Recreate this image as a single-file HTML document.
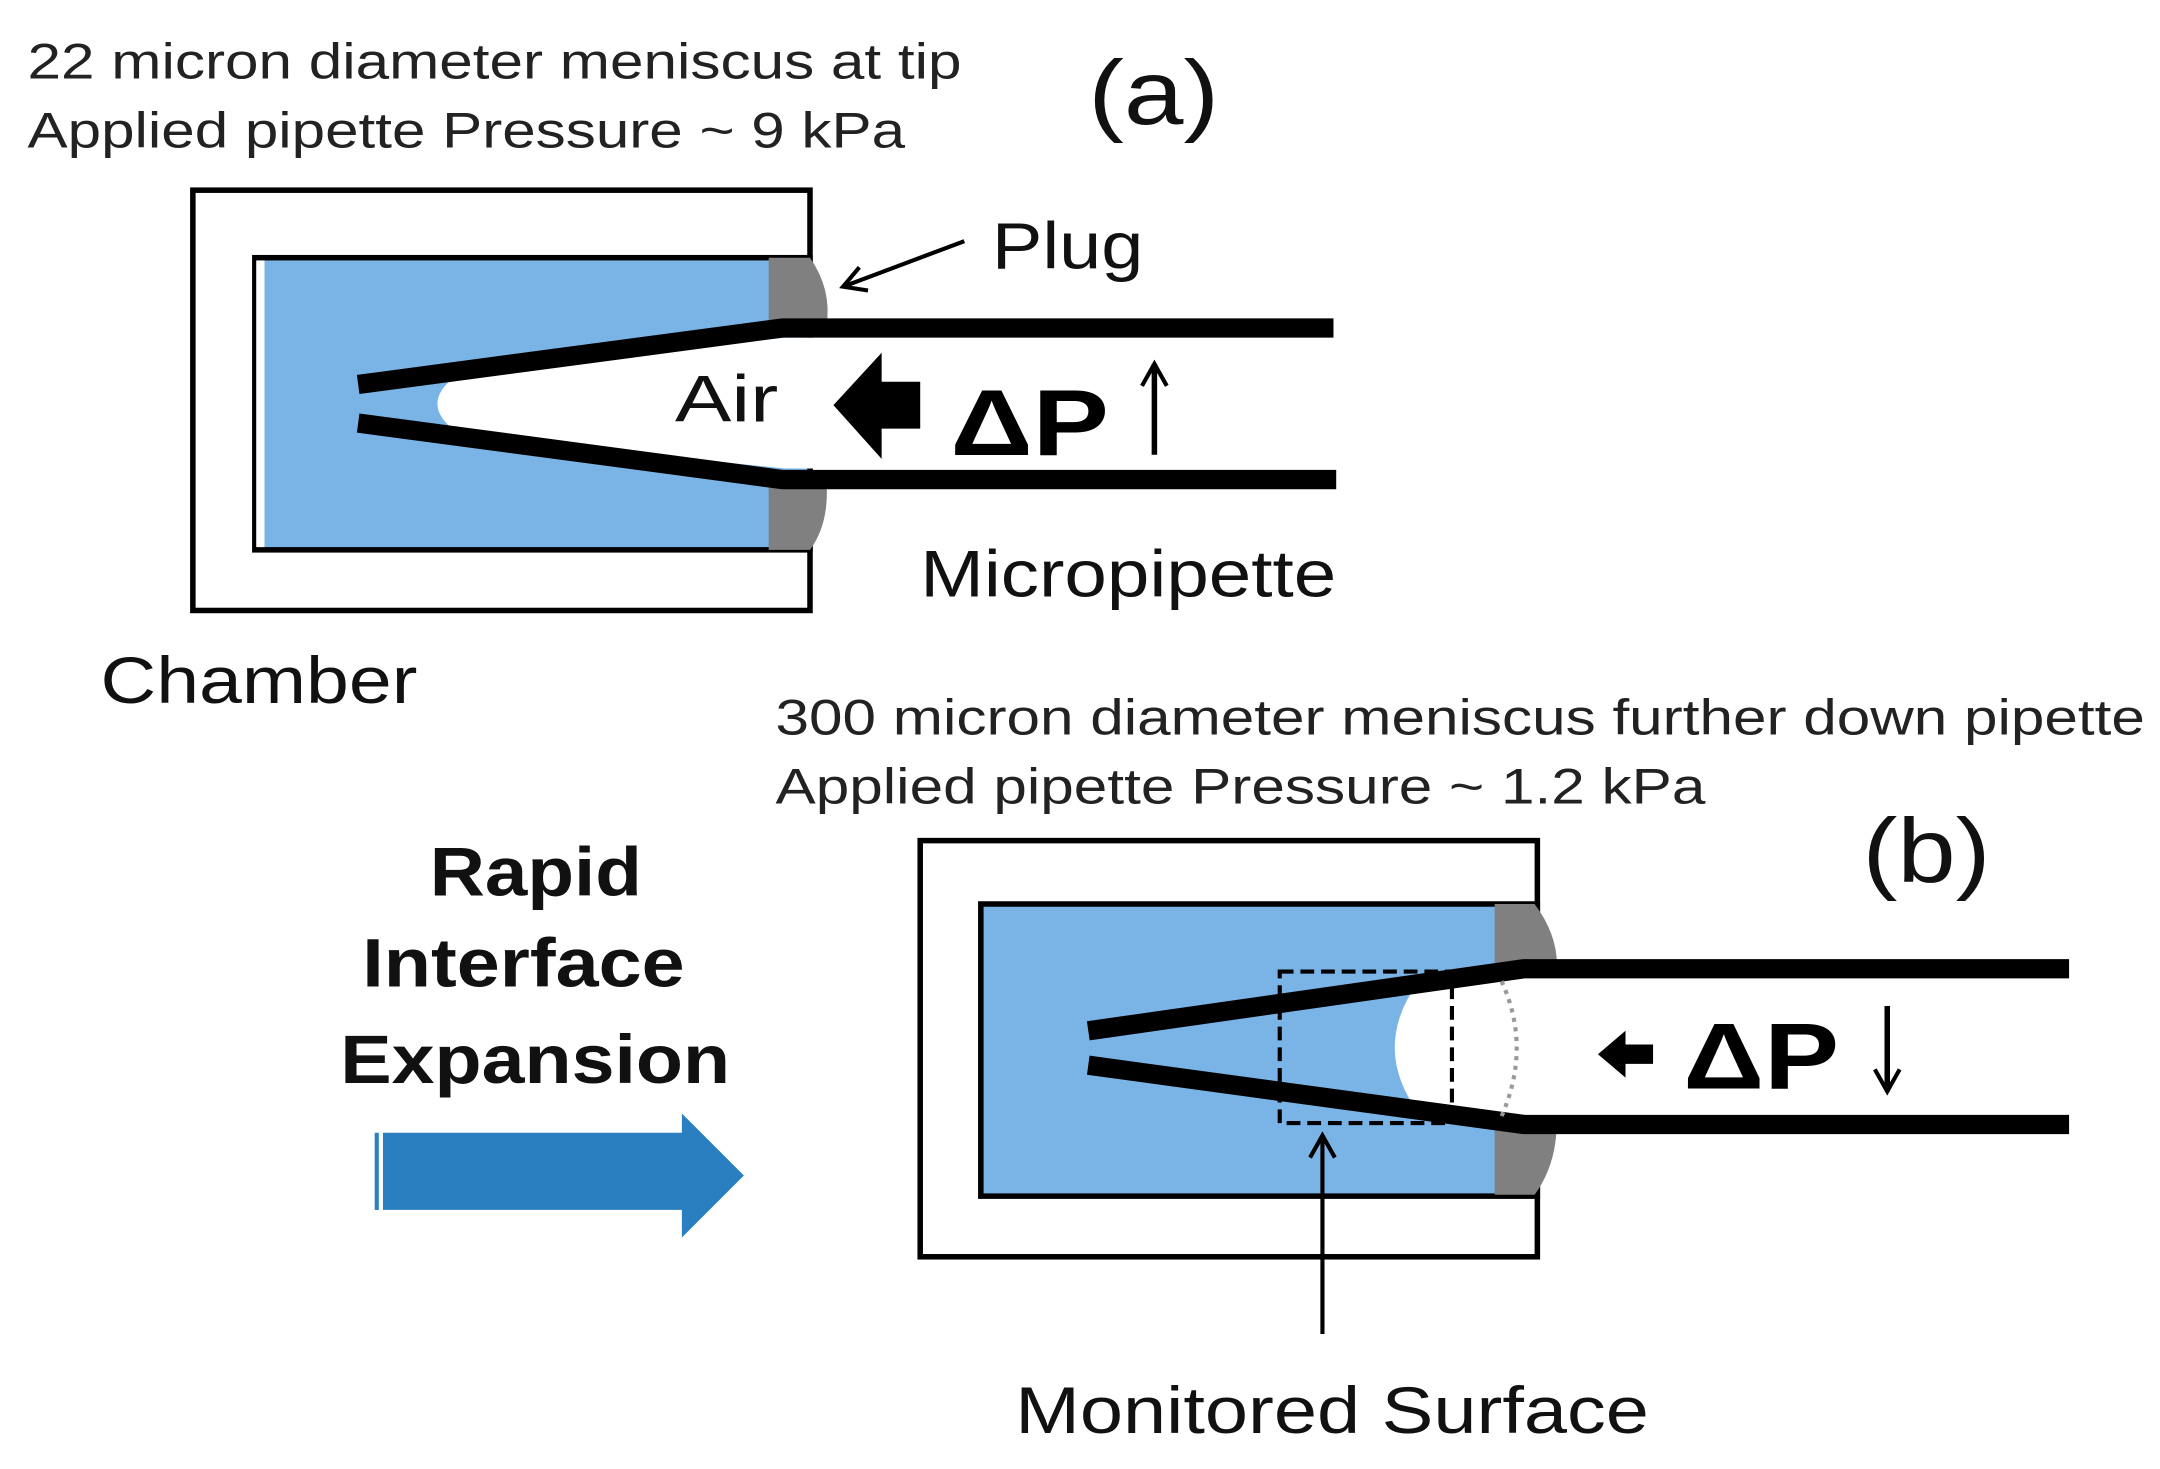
<!DOCTYPE html>
<html><head><meta charset="utf-8"><style>html,body{margin:0;padding:0;background:#fff}svg{display:block}text{font-family:"Liberation Sans",Arial,sans-serif}</style></head>
<body>
<svg width="2160" height="1469" viewBox="0 0 1568 1066" preserveAspectRatio="none" xmlns="http://www.w3.org/2000/svg">
<defs>
<marker id="ah2" markerWidth="22" markerHeight="22" refX="18" refY="11" orient="auto" markerUnits="userSpaceOnUse"><path d="M2,2 L18,11 L2,20" fill="none" stroke="#000" stroke-width="3"/></marker>
</defs>
<!-- (a) -->
<text x="20" y="57" font-size="36" fill="#222" textLength="678" lengthAdjust="spacingAndGlyphs">22 micron diameter meniscus at tip</text>
<text x="20" y="107" font-size="36" fill="#222" textLength="637" lengthAdjust="spacingAndGlyphs">Applied pipette Pressure ~ 9 kPa</text>
<text x="790" y="90" font-size="66" fill="#111" textLength="95" lengthAdjust="spacingAndGlyphs">(a)</text>
<rect x="140" y="138" width="448" height="305" fill="#fff" stroke="#000" stroke-width="4"/>
<rect x="185" y="187" width="403" height="212" fill="#7ab3e5" stroke="#000" stroke-width="4"/>
<rect x="186" y="189" width="6" height="208" fill="#fff"/>
<path d="M558,187 L588,187 Q604,210 600,236 L558,236 Z" fill="#808080"/>
<path d="M558,350 L600,350 Q602,380 588,399 L558,399 Z" fill="#808080"/>
<path d="M335,270 L570,245 L970,245 L970,340 L570,340 L335,316 Q300,293 335,270 Z" fill="#fff"/>
<polyline points="260,279 568,238 968,238" fill="none" stroke="#000" stroke-width="14"/>
<polyline points="260,307 568,348 970,348" fill="none" stroke="#000" stroke-width="14"/>
<text x="490" y="306" font-size="48" fill="#111" textLength="75" lengthAdjust="spacingAndGlyphs">Air</text>
<path d="M668,277 L640,277 L640,256 L605,294 L640,333 L640,311 L668,311 Z" fill="#000"/>
<text x="690" y="330" font-size="68" font-weight="bold" fill="#000" textLength="115" lengthAdjust="spacingAndGlyphs">ΔP</text>
<line x1="838" y1="330" x2="838" y2="264" stroke="#000" stroke-width="4" marker-end="url(#ah2)"/>
<text x="720" y="195" font-size="48" fill="#111" textLength="110" lengthAdjust="spacingAndGlyphs">Plug</text>
<line x1="700" y1="175" x2="612" y2="208" stroke="#000" stroke-width="3" marker-end="url(#ah2)"/>
<text x="668" y="433" font-size="48" fill="#111" textLength="302" lengthAdjust="spacingAndGlyphs">Micropipette</text>
<text x="73" y="510" font-size="48" fill="#111" textLength="230" lengthAdjust="spacingAndGlyphs">Chamber</text>
<!-- (b) -->
<text x="563" y="533" font-size="36" fill="#222" textLength="994" lengthAdjust="spacingAndGlyphs">300 micron diameter meniscus further down pipette</text>
<text x="563" y="583" font-size="36" fill="#222" textLength="675" lengthAdjust="spacingAndGlyphs">Applied pipette Pressure ~ 1.2 kPa</text>
<text x="1352" y="640" font-size="66" fill="#111" textLength="93" lengthAdjust="spacingAndGlyphs">(b)</text>
<text x="312" y="650" font-size="50" font-weight="bold" fill="#111" textLength="154" lengthAdjust="spacingAndGlyphs">Rapid</text>
<text x="263" y="716" font-size="50" font-weight="bold" fill="#111" textLength="234" lengthAdjust="spacingAndGlyphs">Interface</text>
<text x="247" y="786" font-size="50" font-weight="bold" fill="#111" textLength="283" lengthAdjust="spacingAndGlyphs">Expansion</text>
<path d="M278,822 L495,822 L495,808 L540,853 L495,898 L495,878 L278,878 Z" fill="#2a7fc0"/>
<rect x="272" y="822" width="3" height="56" fill="#2a7fc0"/>
<rect x="668" y="610" width="448" height="302" fill="#fff" stroke="#000" stroke-width="4"/>
<rect x="712" y="656" width="404" height="212" fill="#7ab3e5" stroke="#000" stroke-width="4"/>
<path d="M1085,656 L1114,656 Q1132,680 1130,705 L1085,705 Z" fill="#808080"/>
<path d="M1085,815 L1130,815 Q1130,845 1114,867 L1085,867 Z" fill="#808080"/>
<path d="M1030,712 L1110,705 L1502,705 L1502,812 L1110,812 L1030,808 Q995,760 1030,712 Z" fill="#fff"/>
<polyline points="790,748 1106,703 1502,703" fill="none" stroke="#000" stroke-width="14"/>
<polyline points="790,773 1106,816 1502,816" fill="none" stroke="#000" stroke-width="14"/>
<rect x="929" y="705" width="125" height="110" fill="none" stroke="#000" stroke-width="3" stroke-dasharray="10,5"/>
<path d="M1090,712 Q1112,760 1090,810" fill="none" stroke="#999" stroke-width="3" stroke-dasharray="3,4"/>
<path d="M1200,758 L1180,758 L1180,748 L1160,765 L1180,782 L1180,772 L1200,772 Z" fill="#000"/>
<text x="1222" y="790" font-size="68" font-weight="bold" fill="#000" textLength="113" lengthAdjust="spacingAndGlyphs">ΔP</text>
<line x1="1370" y1="730" x2="1370" y2="792" stroke="#000" stroke-width="4" marker-end="url(#ah2)"/>
<line x1="960" y1="968" x2="960" y2="824" stroke="#000" stroke-width="3" marker-end="url(#ah2)"/>
<text x="737" y="1040" font-size="48" fill="#111" textLength="460" lengthAdjust="spacingAndGlyphs">Monitored Surface</text>
</svg>
</body></html>
